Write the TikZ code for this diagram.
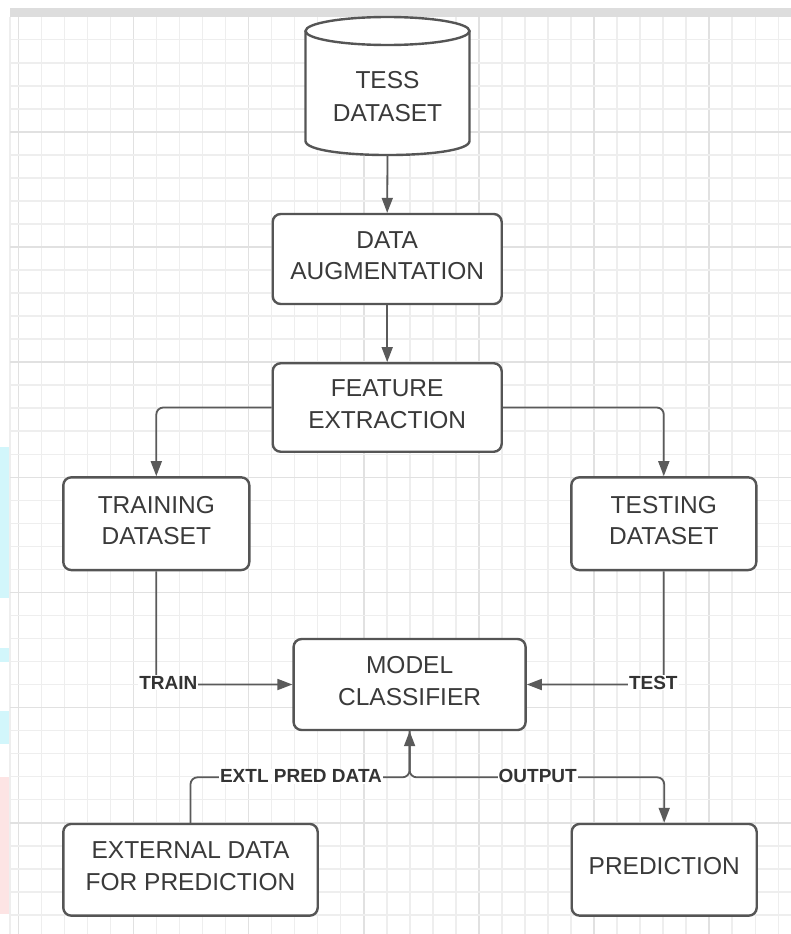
\documentclass[tikz,border=0pt]{standalone}
\usepackage{fontspec}
\setmainfont{Liberation Sans}
\usetikzlibrary{arrows.meta}
\definecolor{gridminor}{HTML}{EEEEEE}
\definecolor{gridmajor}{HTML}{E1E1E1}
\definecolor{edgecol}{HTML}{555555}
\definecolor{linecol}{HTML}{5A5A5A}
\definecolor{txtcol}{HTML}{3A3A3A}
\definecolor{lblcol}{HTML}{333333}
\definecolor{bandcol}{HTML}{DDDDDD}
\definecolor{cyanbar}{HTML}{D2F6FB}
\definecolor{pinkbar}{HTML}{FDE4E4}
\begin{document}
\begin{tikzpicture}[x=1pt,y=-1pt,
  box/.style={draw=edgecol, line width=2.4pt, rounded corners=8pt, fill=white, align=center,
    text=txtcol, font=\fontsize{24.5}{31.5}\selectfont, inner sep=0pt, text depth=7pt},
  plaintext/.style={align=center, text=txtcol, font=\fontsize{24.5}{33}\selectfont, inner sep=0pt},
  conn/.style={draw=linecol, line width=1.8pt, rounded corners=7pt, -{Triangle[length=15pt,width=11pt]}},
  lbl/.style={fill=white, text=lblcol, font=\fontsize{19}{22}\selectfont\bfseries, inner sep=1pt}]
\useasboundingbox (0,0) rectangle (791,934);
\fill[white] (0,0) rectangle (791,934);
% side colour bars
\fill[cyanbar] (0,447) rectangle (10,598);
\fill[cyanbar] (0,648) rectangle (10,662);
\fill[cyanbar] (0,711) rectangle (10,744);
\fill[pinkbar] (0,777) rectangle (10,914);
% grid
\draw[gridminor, line width=1.5pt] (10,16.7) -- (10,934);
\foreach \k in {0,...,33} {
  \pgfmathsetmacro{\gx}{18.3+\k*23.03}
  \pgfmathtruncatemacro{\gmod}{mod(\k,5)}
  \ifnum\gmod=0
    \draw[gridmajor, line width=1.6pt] (\gx,16.7) -- (\gx,934);
  \else
    \draw[gridminor, line width=1.5pt] (\gx,16.7) -- (\gx,934);
  \fi
}
\foreach \k in {1,...,39} {
  \pgfmathsetmacro{\gy}{16.7+\k*23.03}
  \pgfmathtruncatemacro{\gmod}{mod(\k,5)}
  \ifnum\gmod=0
    \draw[gridmajor, line width=1.6pt] (10,\gy) -- (791,\gy);
  \else
    \draw[gridminor, line width=1.5pt] (10,\gy) -- (791,\gy);
  \fi
}
\fill[bandcol] (10,8.3) rectangle (791,16.7);
% cylinder
\node[minimum width=164pt, minimum height=138pt, inner sep=0pt] (db) at (387.5,86) {};
\draw[edgecol, line width=2.4pt, fill=white]
  (305.5,31) -- (305.5,141) .. controls (305.5,159.7) and (469.5,159.7) .. (469.5,141) -- (469.5,31);
\draw[edgecol, line width=2.4pt, fill=white] (387.5,31) ellipse [x radius=82, y radius=14];
\node[plaintext] (dbt) at (387.5,96.7) {TESS\\DATASET};
% boxes
\node[box, minimum width=229pt, minimum height=90pt] (aug) at (387.2,259) {DATA\\AUGMENTATION};
\node[box, minimum width=229pt, minimum height=88.5pt] (feat) at (387.2,407.5) {FEATURE\\EXTRACTION};
\node[box, minimum width=186pt, minimum height=92.7pt] (train) at (156.3,523.7) {TRAINING\\DATASET};
\node[box, minimum width=185pt, minimum height=92.7pt] (test) at (663.8,523.7) {TESTING\\DATASET};
\node[box, minimum width=232pt, minimum height=91pt] (model) at (409.6,684.5) {MODEL\\CLASSIFIER};
\node[box, minimum width=254.4pt, minimum height=91.7pt] (ext) at (190.5,869.8) {EXTERNAL DATA\\FOR PREDICTION};
\node[box, minimum width=185pt, minimum height=91.7pt] (pred) at (664.2,869.8) {PREDICTION};
% connectors
\coordinate (j) at (409.6,777.3);
\draw[conn] (db.south) -- (aug.north);
\draw[conn] (aug.south) -- (feat.north);
\draw[conn] (feat.west) -| (train.north);
\draw[conn] (feat.east) -| (test.north);
\draw[conn] (train.south) |- (model.west);
\draw[conn] (test.south) |- (model.east);
\draw[conn] (ext.north) |- (j) -- (model.south);
\draw[conn] (model.south) -- (j) -| (pred.north);
% labels
\node[lbl] (ltrain) at (168.3,682.5) {TRAIN};
\node[lbl] (ltest) at (653.3,682.5) {TEST};
\node[lbl] (lext) at (301,776.3) {EXTL PRED DATA};
\node[lbl] (lout) at (537.7,776.3) {OUTPUT};
\end{tikzpicture}
\end{document}
